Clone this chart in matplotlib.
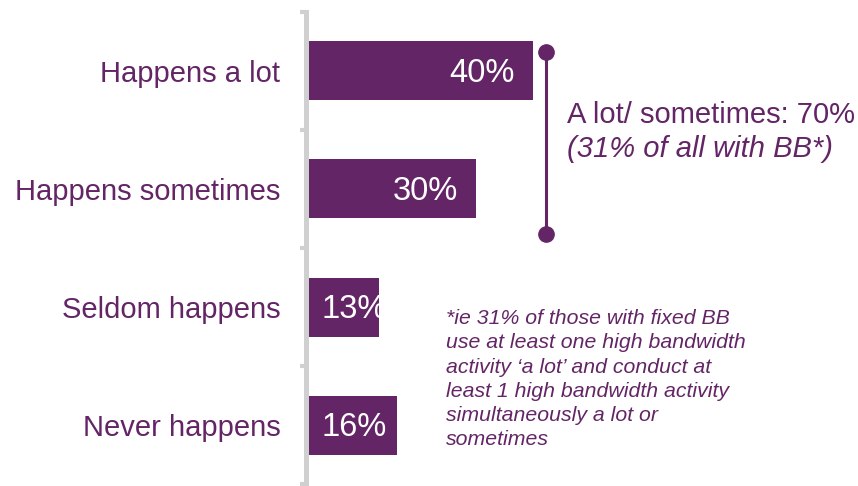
import matplotlib
matplotlib.use("Agg")
import matplotlib.pyplot as plt

categories = ["Happens a lot", "Happens sometimes", "Seldom happens", "Never happens"]
values = [40, 30, 13, 16]
value_labels = ["40%", "30%", "13%", "16%"]
summary_line1 = "A lot/ sometimes: 70%"
summary_line2 = "(31% of all with BB*)"
footnote = ("*ie 31% of those with fixed BB\nuse at least one high bandwidth\n"
            "activity \u2018a lot\u2019 and conduct at\nleast 1 high bandwidth activity\n"
            "simultaneously a lot or\nsometimes")

PURPLE = "#632566"
GRAY = "#D0D0D0"
plt.rcParams['font.family'] = ['Liberation Sans', 'DejaVu Sans']

W, H = 858, 486
fig = plt.figure(figsize=(W / 100, H / 100), dpi=100)
ax = fig.add_axes([305.5 / W, 1 - 484 / H, 1 - 305.5 / W, (484 - 12) / H])

ypos = list(range(len(categories)))
ax.barh(ypos, values, height=0.5, color=PURPLE, zorder=1)
ax.set_xlim(0, 97.1)
ax.set_ylim(len(categories) - 0.5, -0.5)

for y, v, lab in zip(ypos, values, value_labels):
    if v >= 20:
        ax.annotate(lab, (v, y), xytext=(-13, -1.5), textcoords="offset points",
                    ha="right", va="center", color="white", fontsize=23.5)
    else:
        ax.annotate(lab, (0, y), xytext=(11.5, -1.5), textcoords="offset points",
                    ha="left", va="center", color="white", fontsize=23.5)

for s in ["top", "right", "bottom"]:
    ax.spines[s].set_visible(False)
ax.spines["left"].set_color(GRAY)
ax.spines["left"].set_linewidth(3.6)
ax.spines["left"].set_zorder(3)
ax.set_xticks([])
ax.set_yticks(ypos)
ax.set_yticklabels(categories, fontsize=21, color=PURPLE)
ax.tick_params(axis="y", which="major", length=0, pad=18)
ax.set_yticks([i - 0.5 for i in range(len(categories) + 1)], minor=True)
ax.tick_params(axis="y", which="minor", length=4.5, width=3, color=GRAY, direction="out")

# bracket for first two categories
bx = 42.3
ax.plot([bx, bx], [-0.161, 1.38], color=PURPLE, lw=2.2, zorder=4, clip_on=False)
ax.plot([bx, bx], [-0.161, 1.38], 'o', color=PURPLE, ms=11, zorder=5, clip_on=False)

fig.text(567 / W, 1 - 123 / H, summary_line1, fontsize=21, color=PURPLE,
         ha="left", va="baseline")
fig.text(567 / W, 1 - 157 / H, summary_line2, fontsize=21, color=PURPLE,
         ha="left", va="baseline", style="italic")
fig.text(446 / W, 1 - 309 / H, footnote, fontsize=15.3, color=PURPLE,
         ha="left", va="top", style="italic", linespacing=1.35)

fig.savefig("out.png", dpi=100, facecolor="white")
